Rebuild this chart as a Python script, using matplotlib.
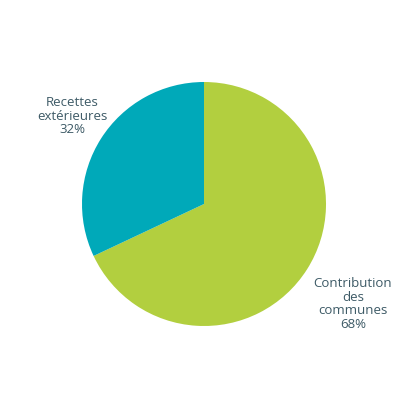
import matplotlib
matplotlib.use("Agg")
import matplotlib.pyplot as plt

labels = ["Contribution\ndes\ncommunes\n68%", "Recettes\nextérieures\n32%"]
values = [68, 32]
colors = ["#b2cf3f", "#00a9b9"]

fig = plt.figure(figsize=(4.08, 4.08), dpi=100)
ax = fig.add_axes([0, 0, 1, 1])

cx, cy, r = 204, 204, 122
wedges, _ = ax.pie(values, colors=colors, startangle=90, counterclock=False,
                   center=(cx, 408 - cy), radius=r, frame=True)
ax.set_xlim(0, 408)
ax.set_ylim(0, 408)
ax.set_aspect("equal")
ax.axis("off")

def T(x, y):
    return x, 408 - y

ax.text(*T(353, 304), labels[0], ha="center", va="center", fontsize=9.5,
        color="#3d5a66", family="Open Sans", linespacing=1.05)
ax.text(*T(72, 116), labels[1], ha="center", va="center", fontsize=9.5,
        color="#3d5a66", family="Open Sans", linespacing=1.05)
fig.savefig("out.png", dpi=100)
